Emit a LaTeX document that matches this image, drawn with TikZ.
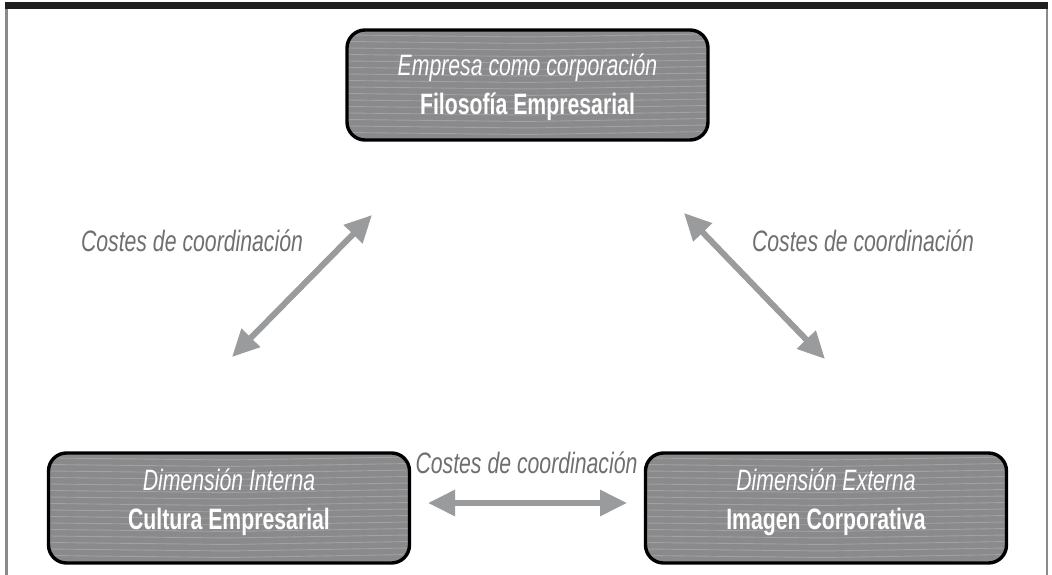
\documentclass[tikz,border=0pt]{standalone}
\usepackage{fontspec}
\setmainfont{Liberation Sans}[FakeStretch=0.72]
\usetikzlibrary{arrows.meta,calc}
\definecolor{boxgray}{HTML}{8A8A8C}
\definecolor{arrowgray}{HTML}{9A9B9D}
\definecolor{labelgray}{HTML}{6E6F71}
\definecolor{framegray}{HTML}{8A8A8A}
\tikzset{
  x=1pt, y=-1pt,
  box/.style={draw=black, line width=3.4pt, rounded corners=18pt, fill=boxgray,
    minimum width=361pt, minimum height=110pt, inner sep=0pt,
    path picture={
      \foreach \k in {0,...,16}{
        \draw[white, opacity=0.2, line width=0.9pt]
          ($(path picture bounding box.north west)+(0,5+6.5*\k)$) --
          ($(path picture bounding box.north)+(0,7+6.5*\k)$) --
          ($(path picture bounding box.north east)+(0,4+6.5*\k)$);
      }
    }},
  boxtext/.style={text=white, align=center, inner sep=0pt,
    font=\fontsize{29.5}{39}\selectfont},
  lbl/.style={text=labelgray, inner sep=0pt, font=\fontsize{29.5}{30}\selectfont\itshape},
  dbl/.style={arrowgray, line width=6pt, {Triangle[length=27pt,width=25pt]}-{Triangle[length=27pt,width=25pt]}}
}
\begin{document}
\begin{tikzpicture}
\useasboundingbox (0,0) rectangle (1052,575);
% frame
\fill[framegray] (5,3) rectangle (7.5,575);
\fill[framegray] (1045.5,3) rectangle (1048,575);
\fill[black!88] (5,2) rectangle (1048,9);

% boxes
\node[box] (top) at (527.5,85) {};
\node[box] (left) at (229,508) {};
\node[box] (right) at (826,508) {};

\node[boxtext] (toptxt) at ($(top.center)+(0,2)$) {\itshape Empresa como corporación\\\bfseries Filosofía Empresarial};
\node[boxtext] (lefttxt) at ($(left.center)+(0,-6)$) {\itshape Dimensión Interna\\\bfseries Cultura Empresarial};
\node[boxtext] (righttxt) at ($(right.center)+(0,-6)$) {\itshape Dimensión Externa\\\bfseries Imagen Corporativa};

% arrow end points
\coordinate (l1) at (232,357);
\coordinate (l2) at (372,215);
\coordinate (r1) at (684,213);
\coordinate (r2) at (825,359);
\coordinate (b1) at (428,503);
\coordinate (b2) at (627,503);
\draw[dbl] (l1) -- (l2);
\draw[dbl] (r1) -- (r2);
\draw[dbl] (b1) -- (b2);

% labels
\node[lbl, anchor=base] (lab1) at (192,251) {Costes de coordinación};
\node[lbl, anchor=base] (lab2) at (863,251) {Costes de coordinación};
\node[lbl, anchor=base] (lab3) at (526.5,473) {Costes de coordinación};
\end{tikzpicture}
\end{document}
